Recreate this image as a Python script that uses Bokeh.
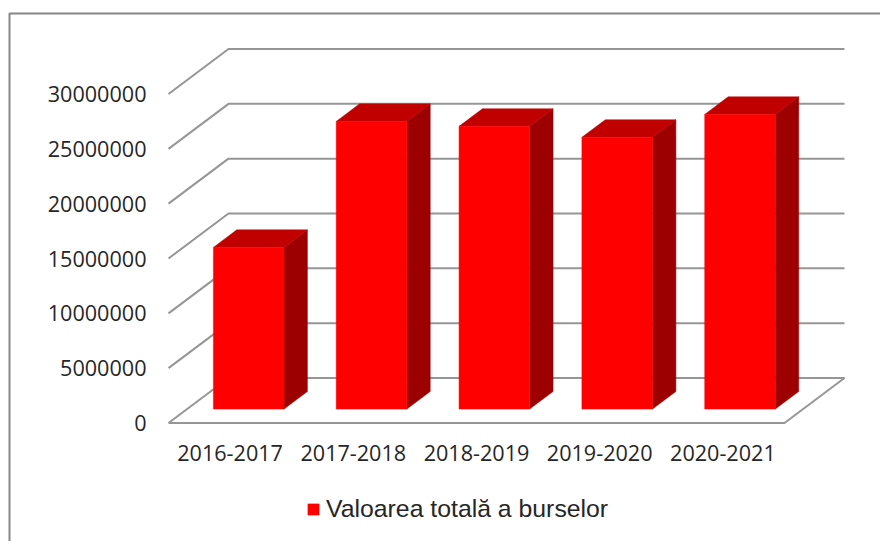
from bokeh.plotting import figure
from bokeh.models import Range1d, FixedTicker, BoxAnnotation, Legend, LegendItem
from bokeh.embed import file_html
from bokeh.resources import INLINE

categories = ["2016-2017", "2017-2018", "2018-2019", "2019-2020", "2020-2021"]
values = [14740000, 26230000, 25780000, 24780000, 26870000]
y_ticks = [0, 5000000, 10000000, 15000000, 20000000, 25000000, 30000000]
series_name = "Valoarea totală a burselor"

W, H = 880, 541
LEFT, FLOOR = 168, 422.5   # where the front corner of the floor lies on the canvas
PX_X = 123.2               # pixels per category
PX_Y = 329 / 30000000      # pixels per value unit
DEPTH_X = 60 / PX_X        # full floor depth, in x units
DEPTH_Y = 45 / PX_Y        # full floor depth, in y units
N = len(categories)
GRID = "#969696"
TXT = "#262626"
FONT = "Open Sans"

p = figure(width=W, height=H, output_backend="svg", toolbar_location=None,
           x_range=Range1d(-LEFT / PX_X, (W - LEFT) / PX_X),
           y_range=Range1d(-(H - FLOOR) / PX_Y, FLOOR / PX_Y),
           min_border=0)
p.outline_line_color = None
p.grid.visible = False
p.background_fill_color = "white"
p.border_fill_color = "white"

# chart frame, open on the right and at the bottom of the page
p.add_layout(BoxAnnotation(left=9, right=980, top=13, bottom=700,
                           left_units="canvas", right_units="canvas",
                           top_units="canvas", bottom_units="canvas",
                           fill_alpha=0, line_color="#868686", line_alpha=1,
                           line_width=2, level="underlay"))

# side wall / back wall gridlines
for v in y_ticks[1:]:
    p.line([0, DEPTH_X, N + DEPTH_X], [v, v + DEPTH_Y, v + DEPTH_Y], line_color=GRID, line_width=2)
# floor
p.line([0, DEPTH_X, N + DEPTH_X, N, 0], [0, DEPTH_Y, DEPTH_Y, 0, 0], line_color=GRID, line_width=2)

# bars
D0, D1 = 0.31, 0.70
half = 35.3 / PX_X
xs = [i + 0.5 + D0 * DEPTH_X - i * 0.003 for i in range(N)]
fl, fr = [x - half for x in xs], [x + half for x in xs]
base0 = D0 * DEPTH_Y
dd_x = (D1 - D0) * DEPTH_X
dd_y = (D1 - D0) * DEPTH_Y
tops = [base0 + v for v in values]

side_x = [[r, r + dd_x, r + dd_x, r] for r in fr]
side_y = [[base0, base0 + dd_y, t + dd_y, t] for t in tops]
top_x = [[l, l + dd_x, r + dd_x, r] for l, r in zip(fl, fr)]
top_y = [[t, t + dd_y, t + dd_y, t] for t in tops]
p.patches(side_x, side_y, fill_color="#9C0000", line_color="#9C0000", line_width=0.5)
p.patches(top_x, top_y, fill_color="#C00000", line_color="#C00000", line_width=0.5)
front = p.quad(left=fl, right=fr, bottom=[base0] * N, top=tops,
               fill_color="#FF0000", line_color="#FF0000", line_width=0.5)

# axes
ya = p.yaxis[0]
ya.fixed_location = -2 / PX_X
ya.ticker = FixedTicker(ticks=y_ticks)
ya.major_label_overrides = {v: str(v) for v in y_ticks}
ya.axis_line_color = None
ya.major_tick_line_color = None
ya.minor_tick_line_color = None
ya.major_label_standoff = 14
ya.major_label_text_font = FONT
ya.major_label_text_font_size = "21.6px"
ya.major_label_text_color = TXT

xa = p.xaxis[0]
xa.fixed_location = -1.5 / PX_Y
centers = [i + 0.5 for i in range(N)]
xa.ticker = FixedTicker(ticks=centers)
xa.major_label_overrides = {c: n for c, n in zip(centers, categories)}
xa.axis_line_color = None
xa.major_tick_line_color = None
xa.minor_tick_line_color = None
xa.major_label_standoff = 14
xa.major_label_text_font = FONT
xa.major_label_text_font_size = "21.6px"
xa.major_label_text_color = TXT

legend = Legend(items=[LegendItem(label=series_name, renderers=[front])],
                location=(306, 18), orientation="horizontal",
                background_fill_alpha=0, border_line_color=None,
                glyph_width=14, glyph_height=14, label_standoff=6,
                margin=0, padding=0,
                label_text_font="Liberation Sans", label_text_font_size="24.8px",
                label_text_color=TXT)
p.add_layout(legend, "center")

open("out.html", "w").write(file_html(p, INLINE))
